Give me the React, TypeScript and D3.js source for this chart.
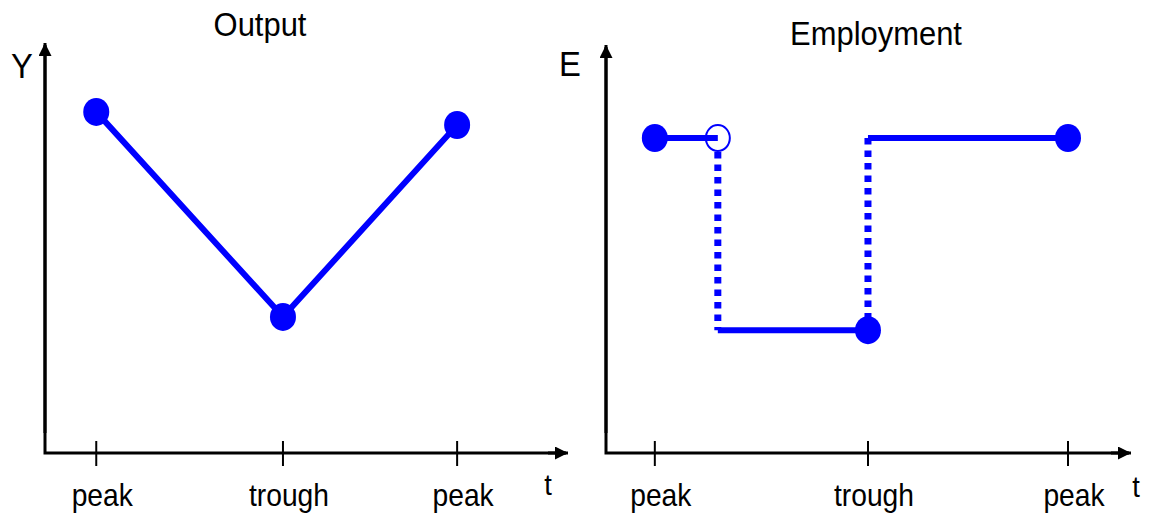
import React, { useEffect, useRef } from "react";
import * as d3 from "d3";

// time positions (0-10 along each t axis) and levels (0-10 along each vertical axis)
const outputLabels = ["peak", "trough", "peak"];
const outputT = [0.98, 4.55, 7.88];
const outputY = [8.32, 3.32, 8.0];

const employmentLabels = ["peak", "trough", "peak"];
const employmentT = [0.93, 4.99, 8.8];
const employmentDropT = 2.13;
const employmentHigh = 7.72;
const employmentLow = 3.01;

const titles = ["Output", "Employment"];
const yNames = ["Y", "E"];

const App: React.FC = () => {
  const svgRef = useRef<SVGSVGElement | null>(null);
  const width = 1149;
  const height = 519;
  const blue = "#0000ff";
  const font = "'Liberation Sans', Arial, sans-serif";

  useEffect(() => {
    const svg = d3.select(svgRef.current);
    svg.selectAll("*").remove();
    svg.attr("width", width).attr("height", height);

    const defs = svg.append("defs");
    defs
      .append("marker")
      .attr("id", "arrow")
      .attr("viewBox", "0 0 10 10")
      .attr("refX", 10)
      .attr("refY", 5)
      .attr("markerUnits", "userSpaceOnUse")
      .attr("markerWidth", 15)
      .attr("markerHeight", 13)
      .attr("orient", "auto")
      .append("path")
      .attr("d", "M0,0L10,5L0,10Z")
      .attr("fill", "#000");

    // text slightly narrowed, as in the source picture
    const label = (
      sel: d3.Selection<any, any, any, any>,
      x: number,
      y: number,
      size: number,
      txt: string
    ) =>
      sel
        .append("text")
        .attr("transform", `translate(${x},${y}) scale(0.91,1)`)
        .attr("text-anchor", "middle")
        .style("font-family", font)
        .style("font-size", `${size}px`)
        .text(txt);

    const panels = [
      { x0: 45, x1: 568, yTop: 43, title: [260, 36], yName: [22, 78], tName: [548, 495] },
      { x0: 606, x1: 1131, yTop: 45, title: [876, 45], yName: [570, 76], tName: [1136, 497] },
    ];
    const baseY = 453;

    const scales = panels.map(p => ({
      x: d3.scaleLinear().domain([0, 10]).range([p.x0, p.x1]),
      y: d3.scaleLinear().domain([0, 10]).range([baseY, p.yTop]),
    }));

    panels.forEach((p, i) => {
      const g = svg.append("g");
      // axes
      g.append("path")
        .attr("d", `M${p.x0},${p.yTop + 2}L${p.x0},${baseY}L${p.x1 - 2},${baseY}`)
        .attr("fill", "none")
        .attr("stroke", "#000")
        .attr("stroke-width", 3)
        .attr("stroke-linejoin", "miter");
      g.append("line")
        .attr("x1", p.x0).attr("y1", baseY - 20).attr("x2", p.x0).attr("y2", p.yTop)
        .attr("stroke", "#000").attr("stroke-width", 3).attr("marker-end", "url(#arrow)");
      g.append("line")
        .attr("x1", p.x1 - 20).attr("y1", baseY).attr("x2", p.x1).attr("y2", baseY)
        .attr("stroke", "#000").attr("stroke-width", 3).attr("marker-end", "url(#arrow)");

      const ts = i === 0 ? outputT : employmentT;
      const labels = i === 0 ? outputLabels : employmentLabels;
      const sx = scales[i].x;
      g.selectAll(".tick")
        .data(ts)
        .enter()
        .append("line")
        .attr("x1", d => sx(d)).attr("x2", d => sx(d))
        .attr("y1", baseY - 12).attr("y2", baseY + 13)
        .attr("stroke", "#000").attr("stroke-width", 2);
      ts.forEach((t, j) => label(g, sx(t) + 6, 506, 31, labels[j]));

      label(g, p.title[0], p.title[1], 34, titles[i]);
      label(g, p.yName[0], p.yName[1], 36, yNames[i]);
      label(g, p.tName[0], p.tName[1], 30, "t");
    });

    // Output panel
    const ox = scales[0].x;
    const oy = scales[0].y;
    const pts: [number, number][] = outputT.map((t, j) => [t, outputY[j]]);
    const line = d3.line<[number, number]>().x(d => ox(d[0])).y(d => oy(d[1]));
    svg.append("path")
      .datum(pts)
      .attr("d", line)
      .attr("fill", "none")
      .attr("stroke", blue)
      .attr("stroke-width", 6);
    svg.selectAll(".odot")
      .data(pts)
      .enter()
      .append("ellipse")
      .attr("cx", d => ox(d[0])).attr("cy", d => oy(d[1]))
      .attr("rx", 13).attr("ry", 14).attr("fill", blue);

    // Employment panel
    const ex = scales[1].x;
    const ey = scales[1].y;
    const r = 13;
    const solid: [number, number][][] = [
      [[employmentT[0], employmentHigh], [employmentDropT, employmentHigh]],
      [[employmentDropT, employmentLow], [employmentT[1], employmentLow]],
      [[employmentT[1], employmentHigh], [employmentT[2], employmentHigh]],
    ];
    const eline = d3.line<[number, number]>().x(d => ex(d[0])).y(d => ey(d[1]));
    solid.forEach(seg => {
      svg.append("path")
        .datum(seg)
        .attr("d", eline)
        .attr("fill", "none")
        .attr("stroke", blue)
        .attr("stroke-width", 6);
    });
    [employmentDropT, employmentT[1]].forEach((t, j) => {
      svg.append("line")
        .attr("x1", ex(t)).attr("x2", ex(t))
        .attr("y1", ey(employmentHigh) + (j === 0 ? r + 1 : 0))
        .attr("y2", ey(employmentLow) - (j === 1 ? r : 0))
        .attr("stroke", blue)
        .attr("stroke-width", 7)
        .attr("stroke-dasharray", "6.5 6");
    });
    const filled: [number, number][] = [
      [employmentT[0], employmentHigh],
      [employmentT[1], employmentLow],
      [employmentT[2], employmentHigh],
    ];
    svg.selectAll(".edot")
      .data(filled)
      .enter()
      .append("ellipse")
      .attr("cx", d => ex(d[0])).attr("cy", d => ey(d[1]))
      .attr("rx", r).attr("ry", r + 1).attr("fill", blue);
    svg.append("ellipse")
      .attr("cx", ex(employmentDropT)).attr("cy", ey(employmentHigh))
      .attr("rx", r - 1).attr("ry", r)
      .attr("fill", "none")
      .attr("stroke", blue)
      .attr("stroke-width", 2);
  }, []);

  return (
    <svg
      ref={svgRef}
      style={{ position: "absolute", left: 0, top: 0, background: "#fff" }}
    ></svg>
  );
};

export default App;
